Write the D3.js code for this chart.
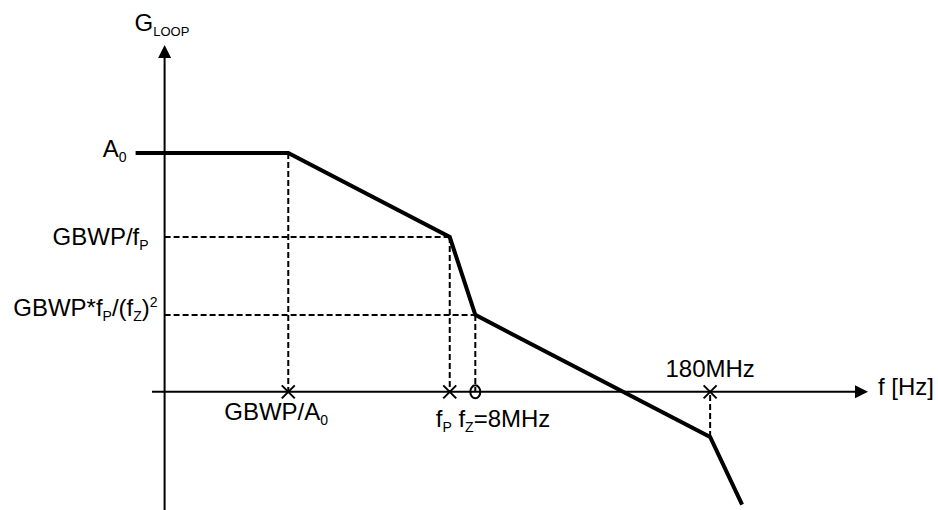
<!DOCTYPE html>
<html>
<head>
<meta charset="utf-8">
<script src="https://cdn.jsdelivr.net/npm/d3@7"></script>
<style>
  body { margin: 0; background: #fff; }
  text { font-family: "Liberation Sans", Arial, sans-serif; fill: #000; }
</style>
</head>
<body>
<svg id="chart" width="938" height="510"></svg>
<script>
// asymptotic loop gain breakpoints (frequency in Hz, gain in dB)
const curveFreq = [8.85e4, 6.7e5, 5.7e6, 8e6, 1.8e8, 2.75e8];
const curveGain = [54, 54, 35, 17.4, -10.2, -25.5];

// marks on the f axis: x = pole / crossing, o = zero
const markFreq = [6.7e5, 5.7e6, 8e6, 1.8e8];
const markType = ["x", "x", "o", "x"];

// gain levels labelled on the G axis
const levelGain = [54, 35, 17.4];
const levelLabel = ["A_{0}", "GBWP/f_{P}", "GBWP*f_{P}/(f_{Z})^{2}"];

// labels under / above the f axis
const freqLabel = ["GBWP/A_{0}", "f_{P} f_{Z}=8MHz", "180MHz"];
const freqLabelAt = [6.7e5, 5.7e6, 1.8e8];

const fOrigin = 1.3e5;   // frequency where the G axis crosses

const svg = d3.select("#chart");

const x = d3.scaleLog().domain([1.1e5, 1.46e9]).range([152, 868]);
const y = d3.scaleLinear().domain([-26.7, 78.4]).range([510, 45]);

const pts = curveFreq.map((f, i) => [f, curveGain[i]]);

// write text with _{sub} and ^{sup} parts as tspans
function rich(sel, str, size, small) {
  const parts = str.split(/([_^]\{[^}]*\})/).filter(s => s);
  let shift = 0;
  parts.forEach(p => {
    if (p[0] === "_" || p[0] === "^") {
      const off = p[0] === "_" ? 5 : -9;
      sel.append("tspan").attr("font-size", small).attr("dy", off - shift).text(p.slice(2, -1));
      shift = off;
    } else {
      sel.append("tspan").attr("font-size", size).attr("dy", -shift).text(p);
      shift = 0;
    }
  });
  return sel;
}

// dashed guides from the breakpoints to the axes
const guides = svg.append("g")
  .attr("stroke", "#000")
  .attr("stroke-width", 2)
  .attr("stroke-dasharray", "6,3")
  .attr("fill", "none");

pts.slice(1, 5).forEach(([f, g]) => {
  guides.append("line")
    .attr("x1", x(f)).attr("x2", x(f))
    .attr("y1", y(g)).attr("y2", y(0));
});
pts.slice(2, 4).forEach(([f, g]) => {
  guides.append("line")
    .attr("x1", x(fOrigin)).attr("x2", x(f))
    .attr("y1", y(g)).attr("y2", y(g));
});

// axes with arrow heads
const axes = svg.append("g").attr("stroke", "#000").attr("stroke-width", 2);
axes.append("line")
  .attr("x1", x.range()[0]).attr("x2", x.range()[1] - 8)
  .attr("y1", y(0)).attr("y2", y(0));
axes.append("line")
  .attr("x1", x(fOrigin)).attr("x2", x(fOrigin))
  .attr("y1", y.range()[0]).attr("y2", y.range()[1] + 8);

svg.append("path")
  .attr("d", `M${x.range()[1]},${y(0)} l-13,-6.5 l0,13 Z`)
  .attr("fill", "#000");
svg.append("path")
  .attr("d", `M${x(fOrigin)},${y.range()[1]} l-6.5,13 l13,0 Z`)
  .attr("fill", "#000");

// the loop gain curve
svg.append("path")
  .datum(pts)
  .attr("fill", "none")
  .attr("stroke", "#000")
  .attr("stroke-width", 4)
  .attr("stroke-linejoin", "miter")
  .attr("d", d3.line().x(d => x(d[0])).y(d => y(d[1])));

// pole / zero marks
const marks = svg.append("g").attr("stroke", "#000").attr("stroke-width", 2).attr("fill", "none");
markFreq.forEach((f, i) => {
  const cx = x(f), cy = y(0);
  if (markType[i] === "o") {
    marks.append("ellipse").attr("cx", cx).attr("cy", cy).attr("rx", 5).attr("ry", 6.5);
  } else {
    marks.append("path").attr("d", `M${cx - 6.5},${cy - 6.5}L${cx + 6.5},${cy + 6.5}M${cx - 6.5},${cy + 6.5}L${cx + 6.5},${cy - 6.5}`);
  }
});

// labels
const FS = 24, SS = 14;

// axis titles
rich(svg.append("text").attr("x", x(fOrigin) - 30).attr("y", 31), "G_{LOOP}", FS, 13);
svg.append("text").attr("x", x.range()[1] + 10).attr("y", y(0) + 3).attr("font-size", FS).text("f [Hz]");

// gain level labels on the left
const levelX = [x(curveFreq[0]) - 9, x(fOrigin) - 16, x(fOrigin) - 7];
const levelDy = [4, 8, 1];
levelGain.forEach((g, i) => {
  rich(svg.append("text")
    .attr("text-anchor", "end")
    .attr("x", levelX[i])
    .attr("y", y(g) + levelDy[i]), levelLabel[i], FS, SS);
});

// frequency labels
const fLabX = [x(freqLabelAt[0]) - 64, x(freqLabelAt[1]) - 14, x(freqLabelAt[2])];
const fLabY = [y(0) + 28, y(0) + 35, y(0) - 15];
const fLabAnchor = ["start", "start", "middle"];
freqLabel.forEach((t, i) => {
  rich(svg.append("text")
    .attr("text-anchor", fLabAnchor[i])
    .attr("x", fLabX[i])
    .attr("y", fLabY[i]), t, FS, SS);
});
</script>
</body>
</html>
